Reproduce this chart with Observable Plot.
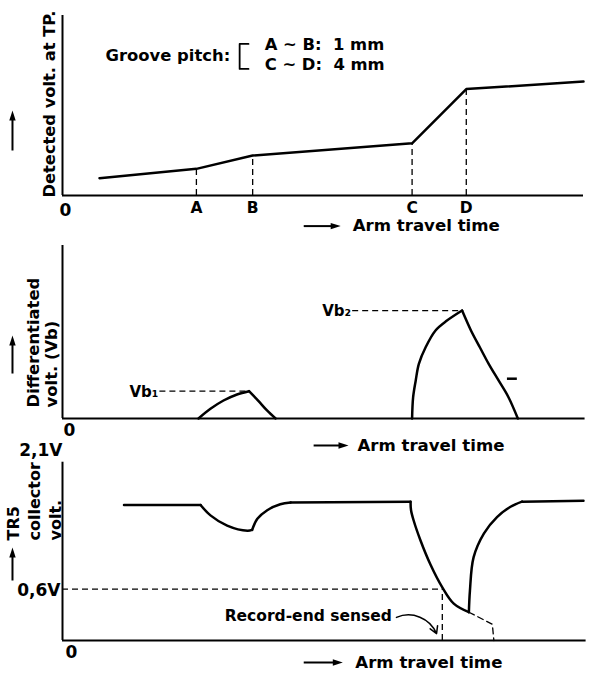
<!DOCTYPE html>
<html><head><meta charset="utf-8">
<script src="https://cdn.jsdelivr.net/npm/d3@7"></script>
<script src="https://cdn.jsdelivr.net/npm/@observablehq/plot@0.6"></script>
<style>
body{margin:0;background:#fff;}
#chart{width:591px;height:677px;position:relative;}
#chart svg{display:block;overflow:visible;background:none;}
</style></head><body><div id="chart"></div>
<script>
// ---------- data ----------
// Panel 1: detected voltage at TP vs arm travel time (relative units)
const markerNames = ["A", "B", "C", "D"];
const detTime = [7.1, 25.7, 36.5, 67.1, 77.5, 100];
const detVolt = [9.6, 14.8, 22.2, 29.0, 59.1, 63.3];
const groovePitch = ["A ~ B:  1 mm", "C ~ D:  4 mm"];

// Panel 2: differentiated voltage (Vb)
const vb1RiseT = [26.1, 28.4, 30.9, 33.5, 35.8];
const vb1RiseV = [0, 5.6, 10.4, 13.9, 15.8];
const vb1FallT = [35.8, 37.5, 39.3, 40.9];
const vb1FallV = [15.8, 10.5, 4.5, 0];
const vb2RiseT = [67.1, 67.3, 67.8, 68.4, 69.7, 71.6, 73.8, 76.7];
const vb2RiseV = [0, 12.3, 22.0, 31.6, 41.2, 50.9, 56.6, 62.4];
const vb2FallT = [76.7, 78.4, 80.1, 81.8, 83.7, 85.6, 87.4];
const vb2FallV = [62.4, 50.9, 41.2, 31.6, 22.0, 12.3, 0];
const vbNames = ["Vb\u2081", "Vb\u2082"];
const vbPeakT = [35.8, 76.7];
const vbPeakV = [15.8, 62.4];

// Panel 3: TR5 collector voltage (V)
const trFlat1 = [[11.8, 1.58], [26.5, 1.58]];
const trDip = [[26.5, 1.58], [28.4, 1.46], [31.6, 1.34], [35.5, 1.28], [36.4, 1.29]];
const trRecover = [[36.4, 1.29], [37.4, 1.42], [39.3, 1.52], [41.8, 1.59], [43.8, 1.61]];
const trFlat2 = [[43.8, 1.61], [66.8, 1.62]];
const trDrop = [[66.8, 1.62], [66.9, 1.52], [67.4, 1.40], [68.7, 1.17], [70.6, 0.89], [72.9, 0.62], [75.1, 0.43], [78.0, 0.33]];
const trRise = [[78.0, 0.33], [78.2, 0.58], [78.9, 0.97], [80.9, 1.25], [83.4, 1.44], [86.0, 1.56], [88.2, 1.62]];
const trFlat3 = [[88.2, 1.62], [100, 1.63]];
const trExtrap = [[78.0, 0.33], [82.5, 0.19], [82.8, 0]];
const senseVolt = 0.6;
const senseTime = 72.9;
const voltTickLabels = ["2,1V", "0,6V"];

// ---------- helpers ----------
const FONT = "'DejaVu Sans', Verdana, sans-serif";
const headSymbol = {draw(ctx) { ctx.moveTo(0, 0); ctx.lineTo(-3.2, 10); ctx.lineTo(3.2, 10); ctx.closePath(); }};
const toRows = (ts, vs, seg) => ts.map((t, i) => ({t, v: vs[i], seg}));
const pairRows = (pairs, seg) => pairs.map(([t, v]) => ({t, v, seg}));

function frame(height, marginTop, marginBottom, yDomain, marks) {
  return Plot.plot({
    width: 591, height, marginLeft: 62, marginRight: 8, marginTop, marginBottom,
    x: {domain: [0, 100], axis: null},
    y: {domain: yDomain, axis: null},
    style: {fontFamily: FONT, fontWeight: "bold", background: "none", overflow: "visible", color: "black"},
    marks
  });
}
function label(str, x, y, opts = {}) {
  return Plot.text([str], {x: () => x, y: () => y, text: d => d, fontSize: 16.6, fill: "black", ...opts});
}
function rightArrow(x1, x2, y, shaftEnd) {
  return [
    Plot.link([0], {x1: () => x1, x2: () => shaftEnd, y1: () => y, y2: () => y, stroke: "black", strokeWidth: 2}),
    Plot.dot([0], {x: () => x2, y: () => y, symbol: headSymbol, rotate: 90, fill: "black", stroke: "none"})
  ];
}
function upArrow(x, y1, y2, shaftEnd) {
  return [
    Plot.link([0], {x1: () => x, x2: () => x, y1: () => y1, y2: () => shaftEnd, stroke: "black", strokeWidth: 2}),
    Plot.dot([0], {x: () => x, y: () => y2, symbol: headSymbol, fill: "black", stroke: "none"})
  ];
}
const dash = {stroke: "black", strokeWidth: 1.3, strokeDasharray: "6,4"};

// ---------- panel 1 ----------
const detRows = toRows(detTime, detVolt, "det");
const markerRows = markerNames.map((name, i) => ({name, t: detTime[i + 1], v: detVolt[i + 1]}));
const p1 = frame(232, 15, 37, [0, 100], [
  Plot.ruleX([0], {y1: 0, y2: 100, strokeWidth: 2}),
  Plot.ruleY([0], {x1: 0, x2: 100, strokeWidth: 2}),
  Plot.ruleX(markerRows, {x: "t", y1: 0, y2: "v", ...dash}),
  Plot.line(detRows, {x: "t", y: "v", stroke: "black", strokeWidth: 2.5}),
  Plot.text(markerRows, {x: "t", y: 0, text: "name", dy: 12.5, fontSize: 15.5}),
  label("0", 0, 0, {dx: 3, dy: 15, fontSize: 17}),
  label("Groove pitch:", 32.2, 77.8, {textAnchor: "end", fontSize: 16.4}),
  Plot.line([[35.7, 84.2], [34.0, 84.2], [34.0, 70.3], [35.7, 70.3]], {stroke: "black", strokeWidth: 1.8}),
  label(groovePitch[0], 38.8, 83.9, {textAnchor: "start", fontSize: 16.4}),
  label(groovePitch[1], 38.8, 72.8, {textAnchor: "start", fontSize: 16.4}),
  label("Detected volt. at TP.", -2.4, 50.8, {rotate: -90, fontSize: 16.3}),
  ...upArrow(-9.6, 25, 47.2, 44),
  ...rightArrow(46.3, 53.4, -17, 52),
  label("Arm travel time", 55.7, -17, {textAnchor: "start"})
]);

// ---------- panel 2 ----------
const vbRows = [
  ...toRows(vb1RiseT, vb1RiseV, "r1"), ...toRows(vb1FallT, vb1FallV, "f1"),
  ...toRows(vb2RiseT, vb2RiseV, "r2"), ...toRows(vb2FallT, vb2FallV, "f2")
];
const peakRows = vbNames.map((name, i) => ({name, t: vbPeakT[i], v: vbPeakV[i], from: i === 0 ? 18.6 : 55.6}));
const p2 = frame(214, 13, 28, [0, 100], [
  Plot.ruleX([0], {y1: 0, y2: 100, strokeWidth: 2}),
  Plot.ruleY([0], {x1: 0, x2: 100.3, strokeWidth: 2}),
  Plot.link(peakRows, {x1: "from", x2: "t", y1: "v", y2: "v", ...dash}),
  Plot.line(vbRows, {x: "t", y: "v", z: "seg", curve: "catmull-rom", stroke: "black", strokeWidth: 2.5}),
  Plot.text(peakRows, {x: "from", y: "v", text: "name", textAnchor: "end", dx: -1, dy: 1, fontSize: 15}),
  Plot.ruleY([23], {x1: 85.4, x2: 87.3, strokeWidth: 2.5}),
  label("0", 0, 0, {dx: 7, dy: 12, fontSize: 17}),
  label("Differentiated\nvolt. (Vb)", -3.9, 6.4, {rotate: -90, textAnchor: "start", lineHeight: 1.12, fontSize: 16.4}),
  ...upArrow(-9.6, 26, 48, 45),
  ...rightArrow(48.2, 54.9, -15.6, 53.5),
  label("Arm travel time", 56.6, -15.6, {textAnchor: "start"})
]);

// ---------- panel 3 ----------
const trRows = [
  ...pairRows(trFlat1, "a"), ...pairRows(trDip, "b"), ...pairRows(trRecover, "c"), ...pairRows(trFlat2, "d"),
  ...pairRows(trDrop, "e"), ...pairRows(trRise, "f"), ...pairRows(trFlat3, "g")
];
const p3 = frame(231, 14, 37, [0, 2.1], [
  Plot.ruleX([0], {y1: 0, y2: 2.08, strokeWidth: 2}),
  Plot.ruleY([0], {x1: 0, x2: 100.5, strokeWidth: 2}),
  Plot.ruleY([senseVolt], {x1: 0, x2: senseTime, ...dash}),
  Plot.ruleX([senseTime], {y1: 0, y2: senseVolt, ...dash}),
  Plot.line(pairRows(trExtrap, "x"), {x: "t", y: "v", ...dash}),
  Plot.line(trRows, {x: "t", y: "v", z: "seg", curve: "catmull-rom", stroke: "black", strokeWidth: 2.5}),
  label(voltTickLabels[0], 0, 2.1, {textAnchor: "end", dy: -10, fontSize: 17}),
  label(voltTickLabels[1], 0, senseVolt, {textAnchor: "end", dx: -2, dy: 1.5, fontSize: 17}),
  label("0", 0, 0, {dx: 9, dy: 12, fontSize: 17}),
  label("Record-end sensed", 63.2, 0.28, {textAnchor: "end", fontSize: 15.5}),
  Plot.arrow([0], {x1: () => 64.1, y1: () => 0.27, x2: () => 71.8, y2: () => 0.08, bend: 45, headLength: 8, stroke: "black", strokeWidth: 1.5}),
  label("TR5\ncollector\nvolt.", -5.6, 1.167, {rotate: -90, textAnchor: "start", lineHeight: 1.3, fontSize: 16}),
  ...upArrow(-9.6, 0.70, 1.085, 1.0),
  ...rightArrow(46.3, 53.8, -0.257, 52.4),
  label("Arm travel time", 56.2, -0.257, {textAnchor: "start"})
]);

const root = document.getElementById("chart");
root.append(p1, p2, p3);
</script></body></html>
